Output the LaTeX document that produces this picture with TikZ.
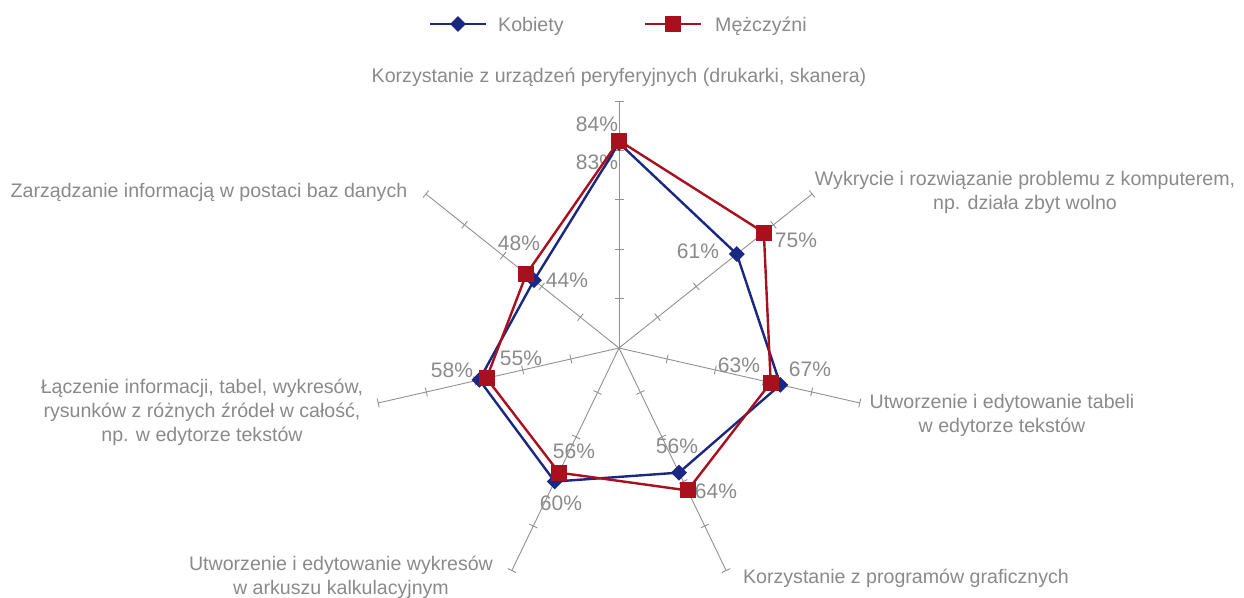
\documentclass[tikz,border=0pt]{standalone}
\usepackage{fontspec}
\setmainfont{Liberation Sans}
\usetikzlibrary{shapes.geometric}
\definecolor{kob}{RGB}{27,40,130}
\definecolor{mez}{RGB}{168,16,30}
\definecolor{axisgray}{RGB}{145,145,145}
\definecolor{txtgray}{RGB}{138,138,138}
\begin{document}
\begin{tikzpicture}[x=1pt,y=1pt,
  axisline/.style={draw=axisgray,line width=0.9pt},
  lbl/.style={text=txtgray,font=\fontsize{19.6}{24}\selectfont,align=center,inner sep=0pt},
  pct/.style={text=txtgray,font=\fontsize{21}{25}\selectfont,inner sep=0pt},
  kline/.style={draw=kob,line width=2.4pt,line join=miter},
  mline/.style={draw=mez,line width=2.4pt,line join=miter},
  kmark/.style={diamond,fill=kob,inner sep=0pt,minimum size=16pt},
  mmark/.style={rectangle,fill=mez,inner sep=0pt,minimum size=16pt}]
\useasboundingbox (-619,-249) rectangle (625,348);
\coordinate (c) at (0,0);
% axes with ticks
\foreach \i in {0,...,6}{
  \pgfmathsetmacro{\a}{90-\i*360/7}
  \coordinate (ax\i) at (\a:247);
  \draw[axisline] (c) -- (ax\i);
  \foreach \k in {1,...,5}{
    \draw[axisline,rotate=\a] (\k*49.4,-4.5) -- (\k*49.4,4.5);
  }
}
% axis labels
\node[lbl] (l0) at (0,271) {Korzystanie z urządzeń peryferyjnych (drukarki, skanera)};
\node[lbl] (l1) at (406,156) {Wykrycie i rozwiązanie problemu z komputerem,\\np. działa zbyt wolno};
\node[lbl] (l2) at (383,-67) {Utworzenie i edytowanie tabeli\\w edytorze tekstów};
\node[lbl] (l3) at (287,-230) {Korzystanie z programów graficznych};
\node[lbl] (l4) at (-278,-229) {Utworzenie i edytowanie wykresów\\w arkuszu kalkulacyjnym};
\node[lbl] (l5) at (-417,-64) {Łączenie informacji, tabel, wykresów,\\rysunków z różnych źródeł w całość,\\np. w edytorze tekstów};
\node[lbl] (l6) at (-410,156) {Zarządzanie informacją w postaci baz danych};
% percent labels
\node[pct] (p84) at (-22,224) {84\%};
\node[pct] (p83) at (-22,186) {83\%};
\node[pct] (p61) at (79,97) {61\%};
\node[pct] (p75) at (177,108) {75\%};
\node[pct] (p63) at (120,-17) {63\%};
\node[pct] (p67) at (191,-21) {67\%};
\node[pct] (p56a) at (58,-98) {56\%};
\node[pct] (p64) at (97,-143) {64\%};
\node[pct] (p56b) at (-45,-103) {56\%};
\node[pct] (p60) at (-58,-155) {60\%};
\node[pct] (p58) at (-167,-22) {58\%};
\node[pct] (p55) at (-98,-10) {55\%};
\node[pct] (p48) at (-100,105) {48\%};
\node[pct] (p44) at (-52,68) {44\%};
% data points
\coordinate (k0) at ({90}:{0.83*247});
\coordinate (k1) at ({90-360/7}:{0.61*247});
\coordinate (k2) at ({90-2*360/7}:{0.67*247});
\coordinate (k3) at ({90-3*360/7}:{0.56*247});
\coordinate (k4) at ({90-4*360/7}:{0.60*247});
\coordinate (k5) at ({90-5*360/7}:{0.58*247});
\coordinate (k6) at ({90-6*360/7}:{0.44*247});
\coordinate (m0) at ({90}:{0.84*247});
\coordinate (m1) at ({90-360/7}:{0.75*247});
\coordinate (m2) at ({90-2*360/7}:{0.63*247});
\coordinate (m3) at ({90-3*360/7}:{0.64*247});
\coordinate (m4) at ({90-4*360/7}:{0.56*247});
\coordinate (m5) at ({90-5*360/7}:{0.55*247});
\coordinate (m6) at ({90-6*360/7}:{0.48*247});
\draw[kline] (k0) -- (k1) -- (k2) -- (k3) -- (k4) -- (k5) -- (k6) -- cycle;
\draw[mline] (m0) -- (m1) -- (m2) -- (m3) -- (m4) -- (m5) -- (m6) -- cycle;
\foreach \i in {0,...,6}{
  \node[kmark] (K\i) at (k\i) {};
}
\foreach \i in {0,...,6}{
  \node[mmark] (M\i) at (m\i) {};
}
% legend
\coordinate (lk1) at (-189,324);
\coordinate (lk2) at (-133,324);
\draw[kline,line width=2.6pt] (lk1) -- (lk2);
\node[kmark] (lkm) at (-161,324) {};
\node[lbl,anchor=west] (lkt) at (-121,322) {Kobiety};
\coordinate (lm1) at (26,324);
\coordinate (lm2) at (82,324);
\draw[mline,line width=2.6pt] (lm1) -- (lm2);
\node[mmark] (lmm) at (54,324) {};
\node[lbl,anchor=west] (lmt) at (96,322) {Mężczyźni};
\end{tikzpicture}
\end{document}
